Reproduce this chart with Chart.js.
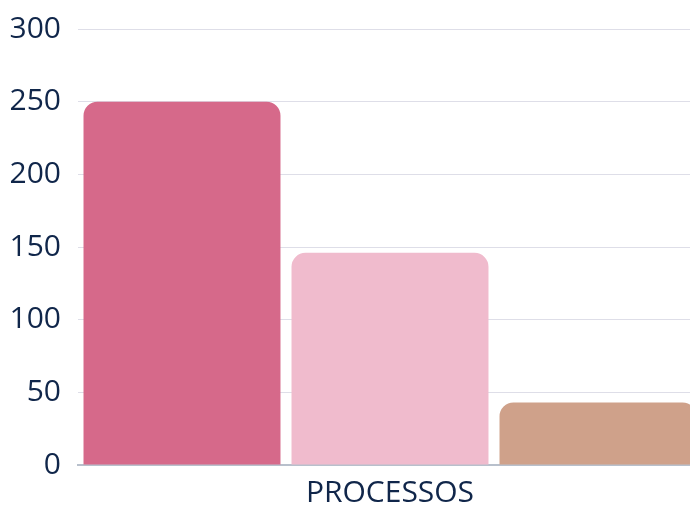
<!DOCTYPE html>
<html>
<head>
<meta charset="utf-8">
<script src="https://cdn.jsdelivr.net/npm/chart.js@4"></script>
<style>
  html, body { margin: 0; padding: 0; background: #fff; overflow: hidden; }
  #clip { width: 690px; height: 505px; overflow: hidden; position: relative; }
  #wrap { width: 702px; height: 505px; position: absolute; left: 0; top: 0; }
</style>
</head>
<body>
<div id="clip"><div id="wrap"><canvas id="processChart"></canvas></div></div>
<script>
const categories = ["PROCESSOS"];
const seriesNames = ["Série 1", "Série 2", "Série 3"];
const seriesValues = [[250], [146], [43]];
const seriesColors = ["#d6698a", "#f0bbcd", "#cfa18a"];
const yTicks = [0, 50, 100, 150, 200, 250, 300];

const textColor = "#10264a";

const ctx = document.getElementById("processChart").getContext("2d");

new Chart(ctx, {
  type: "bar",
  data: {
    labels: categories,
    datasets: seriesValues.map((vals, i) => ({
      label: seriesNames[i],
      data: vals,
      backgroundColor: seriesColors[i],
      borderRadius: 14,
      borderSkipped: "start",
      categoryPercentage: 1,
      barPercentage: 0.947,
    })),
  },
  options: {
    responsive: true,
    maintainAspectRatio: false,
    animation: false,
    layout: { padding: { top: 29, left: 10, right: 0, bottom: 0 } },
    plugins: {
      legend: { display: false },
      tooltip: { enabled: false },
    },
    scales: {
      x: {
        grid: { display: false, drawTicks: false },
        border: { color: "#b8c0cc", width: 2 },
        ticks: {
          color: textColor,
          font: { family: "Open Sans", size: 30 },
          padding: 10,
        },
        afterFit(scale) {
          scale.height = 40;
        },
      },
      y: {
        min: yTicks[0],
        max: yTicks[yTicks.length - 1],
        afterBuildTicks(axis) {
          axis.ticks = yTicks.map(v => ({ value: v }));
        },
        grid: { color: "#dedee8", drawTicks: false },
        border: { display: false },
        ticks: {
          color: textColor,
          font: { family: "Open Sans", size: 30 },
          padding: 17,
        },
        afterFit(scale) {
          scale.width = 68;
          scale.paddingTop = 0;
          scale.paddingBottom = 0;
        },
      },
    },
  },
});
</script>
</body>
</html>
